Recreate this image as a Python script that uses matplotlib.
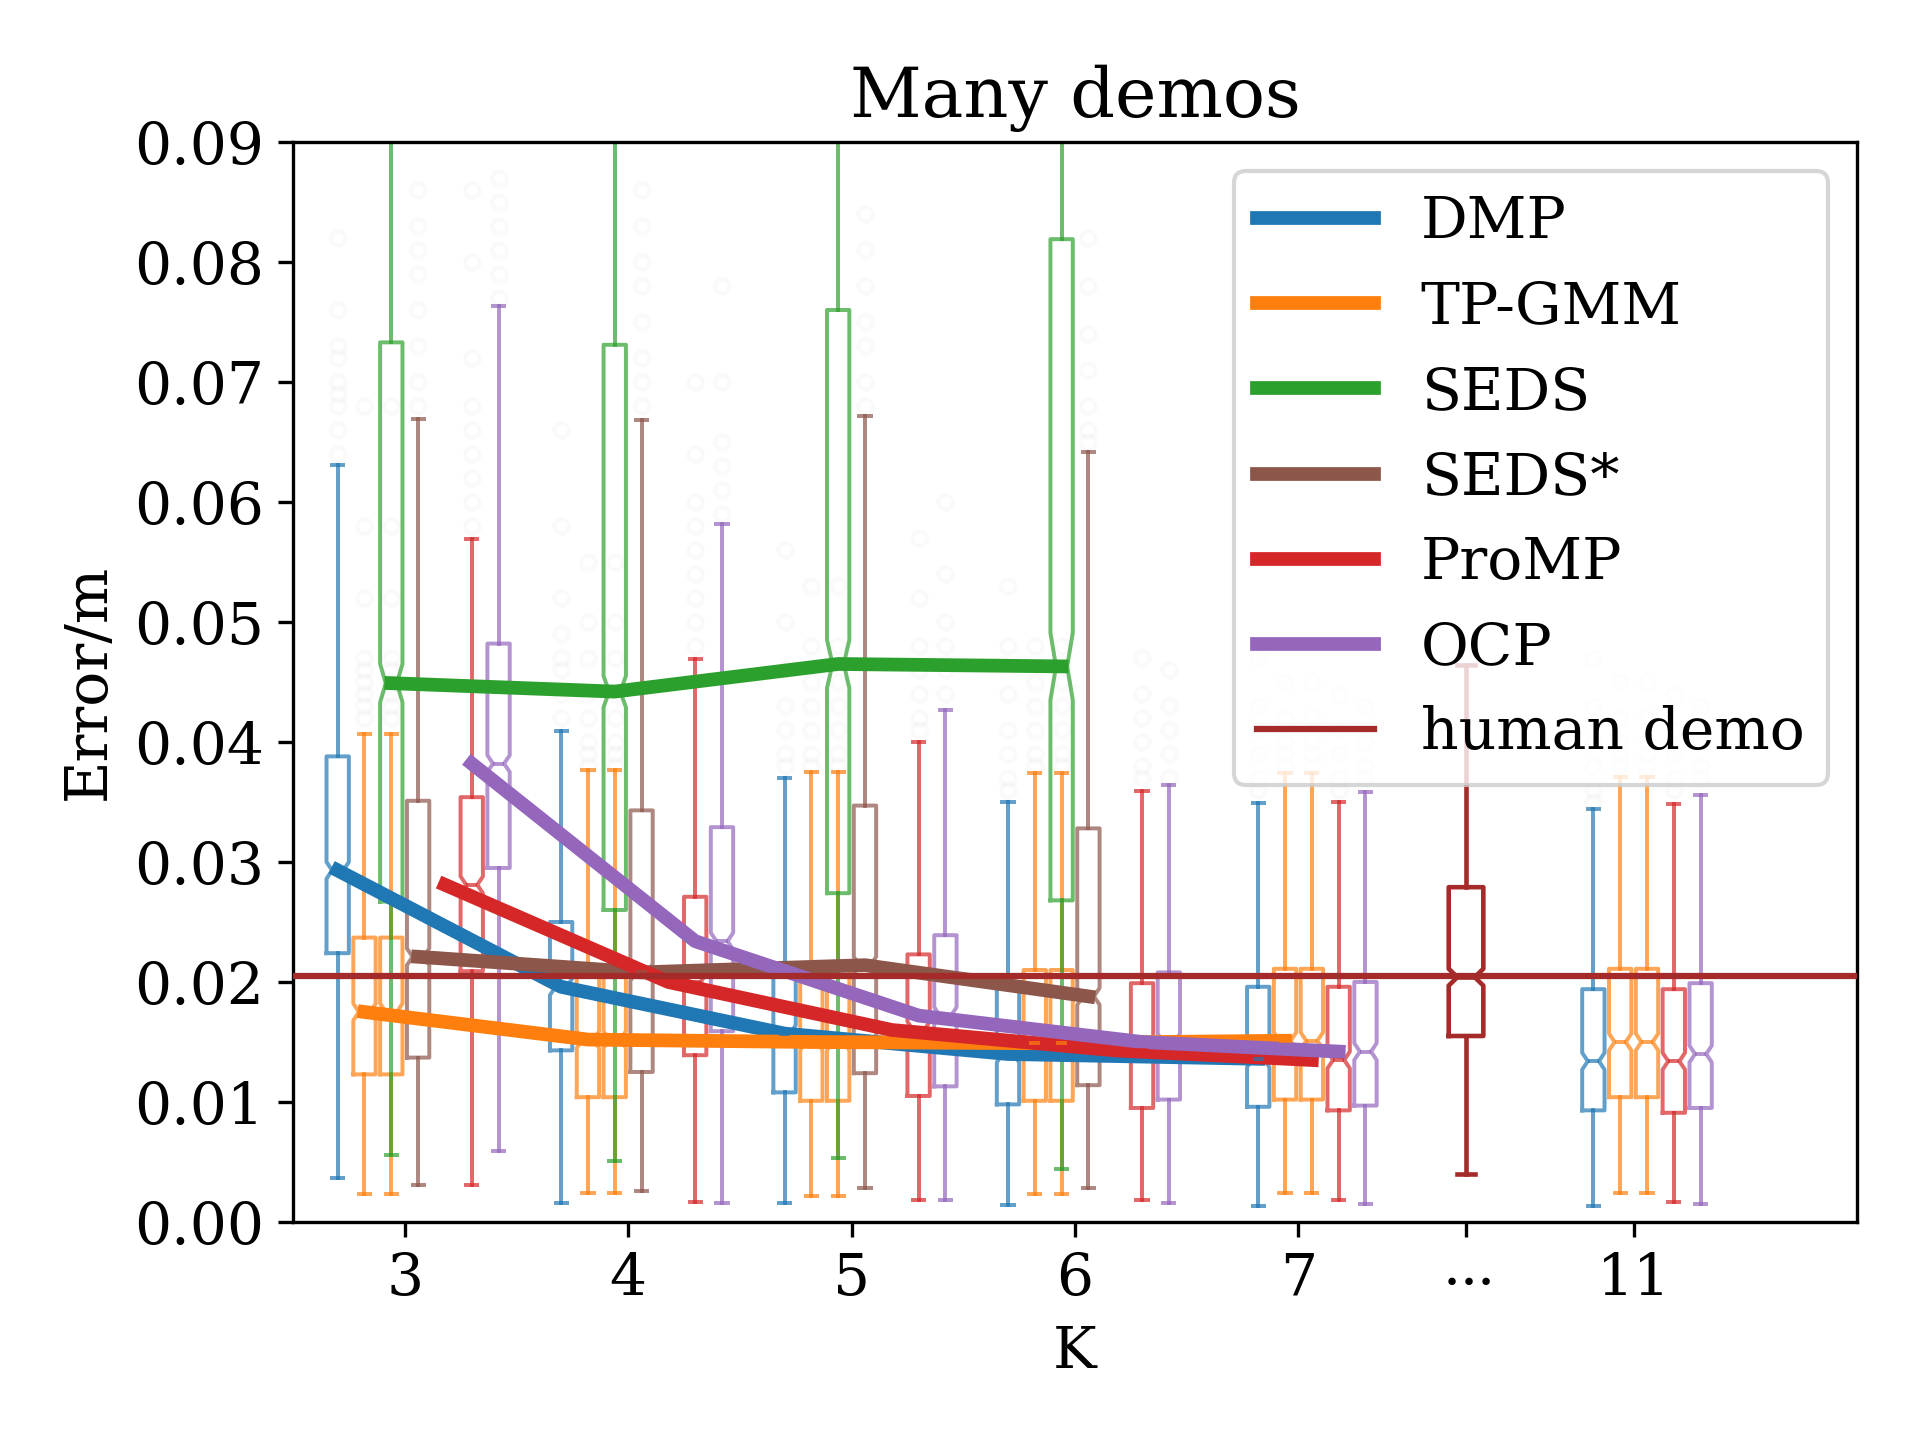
import numpy as np
import matplotlib.pyplot as plt

plt.rcParams['font.family'] = 'serif'
plt.rcParams['font.serif'] = ['DejaVu Serif']
plt.rcParams['mathtext.fontset'] = 'dejavuserif'
plt.rcParams['font.size'] = 14

# ---- data (columns: K = 3, 4, 5, 6, 7, 11) ----
k_ticks = [3, 4, 5, 6, 7, 7.75, 8.5]
k_labels = ['3', '4', '5', '6', '7', r'$\cdots$', '11']
k_pos = [3, 4, 5, 6, 7, 8.5]

dmp_q1 = [0.0224, 0.0143, 0.0108, 0.0098, 0.0096, 0.0093]
dmp_med = [0.0293, 0.0196, 0.0157, 0.0140, 0.0136, 0.0134]
dmp_q3 = [0.0388, 0.0250, 0.0205, 0.0200, 0.0196, 0.0194]
dmp_lo = [0.0037, 0.0016, 0.0016, 0.0014, 0.0013, 0.0013]
dmp_hi = [0.0631, 0.0409, 0.0370, 0.0350, 0.0349, 0.0344]
dmp_fl = [[0.064, 0.066, 0.068, 0.069, 0.070, 0.072, 0.073, 0.076, 0.082],
          [0.042, 0.044, 0.046, 0.047, 0.049, 0.052, 0.058, 0.066],
          [0.038, 0.039, 0.041, 0.043, 0.046, 0.050, 0.056],
          [0.036, 0.037, 0.039, 0.041, 0.044, 0.048, 0.053],
          [0.036, 0.037, 0.039, 0.041, 0.043, 0.047],
          [0.035, 0.036, 0.038, 0.040, 0.043, 0.047]]

tpgmm_q1 = [0.0123, 0.0104, 0.0101, 0.0101, 0.0102, 0.0104]
tpgmm_med = [0.0175, 0.0152, 0.0150, 0.0149, 0.0151, 0.0150]
tpgmm_q3 = [0.0237, 0.0214, 0.0210, 0.0210, 0.0211, 0.0211]
tpgmm_lo = [0.0023, 0.0024, 0.0022, 0.0023, 0.0024, 0.0024]
tpgmm_hi = [0.0407, 0.0377, 0.0375, 0.0374, 0.0374, 0.0371]
tpgmm_fl = [[0.042, 0.043, 0.044, 0.045, 0.046, 0.047, 0.052, 0.058, 0.068],
            [0.038, 0.039, 0.040, 0.042, 0.044, 0.047, 0.050, 0.055],
            [0.038, 0.039, 0.041, 0.043, 0.045, 0.048, 0.053],
            [0.038, 0.039, 0.041, 0.043, 0.045, 0.048],
            [0.038, 0.039, 0.040, 0.042, 0.045],
            [0.038, 0.039, 0.040, 0.042, 0.045]]

seds_q1 = [0.0267, 0.0260, 0.0274, 0.0268]
seds_med = [0.0449, 0.0442, 0.0465, 0.0463]
seds_q3 = [0.0733, 0.0731, 0.0760, 0.0819]
seds_lo = [0.0056, 0.0051, 0.0053, 0.0044]
seds_hi = [0.1100, 0.1100, 0.1100, 0.1100]
seds_ci = [0.0016, 0.0013, 0.0020, 0.0028]

sedss_q1 = [0.0137, 0.0125, 0.0124, 0.0114]
sedss_med = [0.0221, 0.0208, 0.0214, 0.0188]
sedss_q3 = [0.0351, 0.0343, 0.0347, 0.0328]
sedss_lo = [0.0031, 0.0026, 0.0028, 0.0028]
sedss_hi = [0.0669, 0.0668, 0.0672, 0.0642]
sedss_fl = [[0.068, 0.070, 0.073, 0.076, 0.079, 0.081, 0.083, 0.086],
            [0.068, 0.070, 0.072, 0.075, 0.078, 0.080, 0.083, 0.086],
            [0.068, 0.070, 0.073, 0.075, 0.078, 0.081, 0.084],
            [0.065, 0.066, 0.068, 0.071, 0.074, 0.078, 0.082]]

promp_q1 = [0.0209, 0.0139, 0.0105, 0.0095, 0.0093, 0.0091]
promp_med = [0.0281, 0.0200, 0.0160, 0.0143, 0.0135, 0.0134]
promp_q3 = [0.0354, 0.0271, 0.0223, 0.0199, 0.0196, 0.0194]
promp_lo = [0.0031, 0.0017, 0.0018, 0.0018, 0.0018, 0.0017]
promp_hi = [0.0569, 0.0469, 0.0400, 0.0359, 0.0350, 0.0348]
promp_fl = [[0.058, 0.060, 0.062, 0.064, 0.066, 0.068, 0.072, 0.080, 0.086],
            [0.048, 0.050, 0.052, 0.054, 0.056, 0.058, 0.060, 0.064, 0.070],
            [0.041, 0.042, 0.044, 0.046, 0.048, 0.052, 0.057],
            [0.037, 0.038, 0.040, 0.042, 0.044, 0.047],
            [0.036, 0.037, 0.039, 0.041, 0.044],
            [0.036, 0.037, 0.039, 0.041, 0.044]]

ocp_q1 = [0.0295, 0.0159, 0.0113, 0.0102, 0.0097, 0.0095]
ocp_med = [0.0382, 0.0234, 0.0172, 0.0150, 0.0142, 0.0140]
ocp_q3 = [0.0482, 0.0329, 0.0239, 0.0208, 0.0200, 0.0199]
ocp_lo = [0.0059, 0.0016, 0.0018, 0.0016, 0.0015, 0.0015]
ocp_hi = [0.0763, 0.0582, 0.0427, 0.0364, 0.0358, 0.0356]
ocp_fl = [[0.077, 0.079, 0.081, 0.083, 0.085, 0.087],
          [0.059, 0.061, 0.063, 0.065, 0.070, 0.078],
          [0.044, 0.046, 0.048, 0.050, 0.054, 0.060],
          [0.037, 0.039, 0.041, 0.043, 0.046],
          [0.037, 0.038, 0.040, 0.043],
          [0.037, 0.038, 0.040, 0.043]]

human_q1, human_med, human_q3 = 0.0155, 0.0204, 0.0279
human_lo, human_hi = 0.0040, 0.0464
human_level = 0.0205

colors = {'DMP': 'tab:blue', 'TP-GMM': 'tab:orange', 'SEDS': 'tab:green',
          'SEDS*': 'tab:brown', 'ProMP': 'tab:red', 'OCP': 'tab:purple'}


def stat(q1, med, q3, lo, hi, fl=(), ci=0.0007):
    return dict(q1=q1, med=med, q3=q3, whislo=lo, whishi=hi,
                cilo=med - ci, cihi=med + ci, fliers=list(fl))


fig, ax = plt.subplots(figsize=(6.4, 4.8), dpi=300)
fig.subplots_adjust(left=0.1526, right=0.9672, top=0.9014, bottom=0.1514)

flierprops = dict(marker='o', markersize=3.5, markerfacecolor='none',
                  markeredgecolor='gray', alpha=0.035)


def draw(stats, pos, color, width=0.1, lw=0.95, alpha=0.7):
    ax.bxp(stats, positions=pos, widths=width, shownotches=True,
           manage_ticks=False,
           boxprops=dict(color=color, lw=lw, alpha=alpha),
           whiskerprops=dict(color=color, lw=lw, alpha=alpha),
           capprops=dict(color=color, lw=lw, alpha=alpha),
           medianprops=dict(color=color, lw=lw, alpha=alpha),
           flierprops=flierprops)


# box offsets: K=3..6 and K=7,11
off_a = {'DMP': -0.30, 'TP-GMM': -0.18, 'TP-GMM2': -0.06, 'SEDS': -0.06,
         'SEDS*': 0.06, 'ProMP': 0.30, 'OCP': 0.42}
off_b = {'DMP': -0.18, 'TP-GMM': -0.06, 'TP-GMM2': 0.06, 'ProMP': 0.18, 'OCP': 0.30}

series = {'DMP': (dmp_q1, dmp_med, dmp_q3, dmp_lo, dmp_hi, dmp_fl),
          'TP-GMM': (tpgmm_q1, tpgmm_med, tpgmm_q3, tpgmm_lo, tpgmm_hi, tpgmm_fl),
          'ProMP': (promp_q1, promp_med, promp_q3, promp_lo, promp_hi, promp_fl),
          'OCP': (ocp_q1, ocp_med, ocp_q3, ocp_lo, ocp_hi, ocp_fl)}

for name in ['DMP', 'TP-GMM', 'TP-GMM2', 'ProMP', 'OCP']:
    key = 'TP-GMM' if name == 'TP-GMM2' else name
    q1, med, q3, lo, hi, fl = series[key]
    st = [stat(q1[i], med[i], q3[i], lo[i], hi[i], fl[i]) for i in range(6)]
    pos = [k_pos[i] + (off_a[name] if i < 4 else off_b[name]) for i in range(6)]
    draw(st, pos, colors[key])

st = [stat(seds_q1[i], seds_med[i], seds_q3[i], seds_lo[i], seds_hi[i], ci=seds_ci[i])
      for i in range(4)]
draw(st, [k + off_a['SEDS'] for k in k_pos[:4]], colors['SEDS'])
st = [stat(sedss_q1[i], sedss_med[i], sedss_q3[i], sedss_lo[i], sedss_hi[i], sedss_fl[i])
      for i in range(4)]
draw(st, [k + off_a['SEDS*'] for k in k_pos[:4]], colors['SEDS*'])

draw([stat(human_q1, human_med, human_q3, human_lo, human_hi)], [7.75],
     'brown', width=0.155, lw=1.1, alpha=1.0)

# median lines
line_off6 = [-0.30, -0.18, -0.06, 0.06, 0.18, 0.30]
line_off4 = {'DMP': -0.18, 'TP-GMM': -0.06, 'ProMP': 0.06, 'OCP': 0.18}
meds = {'DMP': dmp_med, 'TP-GMM': tpgmm_med, 'SEDS': seds_med,
        'SEDS*': sedss_med, 'ProMP': promp_med, 'OCP': ocp_med}
for j, name in enumerate(['DMP', 'TP-GMM', 'SEDS', 'SEDS*', 'ProMP', 'OCP']):
    m = meds[name]
    xs = [k_pos[i] + line_off6[j] for i in range(4)]
    ys = list(m[:4])
    if name in line_off4:
        xs.append(7 + line_off4[name])
        ys.append(m[4])
    ax.plot(xs, ys, color=colors[name], lw=3.3, label=name)

ax.axhline(human_level, color='brown', lw=1.5, label='human demo', zorder=3)

ax.set_xlim(2.5, 9.5)
ax.set_ylim(0, 0.09)
ax.set_yticks(np.arange(0, 0.091, 0.01))
ax.set_xticks(k_ticks)
ax.set_xticklabels(k_labels)
ax.set_xlabel('K')
ax.set_ylabel('Error/m')
ax.set_title('Many demos')
ax.legend(loc='upper right')

plt.savefig('out.png', dpi=300)
